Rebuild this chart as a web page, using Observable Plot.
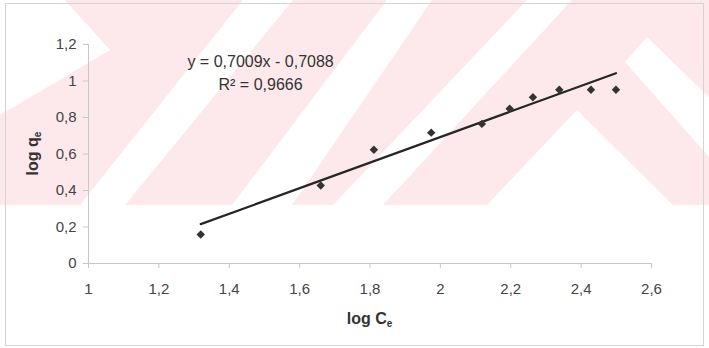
<!DOCTYPE html>
<html>
<head>
<meta charset="utf-8">
<script src="https://cdn.jsdelivr.net/npm/d3@7"></script>
<script src="https://cdn.jsdelivr.net/npm/@observablehq/plot@0.6"></script>
<style>
  body { margin: 0; background: #fff; }
  #wrap { position: relative; width: 709px; height: 348px; font-family: "Liberation Sans", Arial, sans-serif; }
  #wrap > svg { position: absolute; left: 0; top: 0; }
</style>
</head>
<body>
<div id="wrap"></div>
<script>
// Freundlich isotherm: log Ce vs log qe
const logCe = [1.319, 1.660, 1.811, 1.974, 2.118, 2.197, 2.263, 2.338, 2.428, 2.499];
const logQe = [0.159, 0.427, 0.623, 0.717, 0.765, 0.848, 0.911, 0.952, 0.952, 0.952];

// Linear fit as reported
const slope = 0.7009;
const intercept = -0.7088;
const rSquared = 0.9666;

const xTicks = [1, 1.2, 1.4, 1.6, 1.8, 2, 2.2, 2.4, 2.6];
const yTicks = [0, 0.2, 0.4, 0.6, 0.8, 1, 1.2];

const W = 709, H = 348;
const comma = d => String(d).replace(".", ",");

// Background layer: page frame and the light diagonal band pattern
const bg = d3.create("svg").attr("width", W).attr("height", H);
bg.append("rect").attr("x", 0).attr("y", 0).attr("width", W).attr("height", 205).attr("fill", "#fde9ec");
const bands = [
  [[0,0],[65,0],[110,50],[0,115]],
  [[243,0],[293,0],[125,205],[80,205]],
  [[387,0],[432,0],[292,205],[232,205]],
  [[527,0],[572,0],[383,205],[333,205]],
  [[577,110],[673,205],[487,205]],
  [[625,62],[647,37],[709,97],[709,157]]
];
bg.selectAll("polygon.band").data(bands).join("polygon")
  .attr("class", "band")
  .attr("points", d => d.map(p => p.join(",")).join(" "))
  .attr("fill", "#ffffff");
bg.append("rect").attr("x", 5.5).attr("y", 3.5).attr("width", 698).attr("height", 342)
  .attr("fill", "none").attr("stroke", "#d4d4d4");
document.getElementById("wrap").append(bg.node());

const points = logCe.map((x, i) => ({x, y: logQe[i]}));
const fit = d3.extent(logCe).map(x => ({x, y: slope * x + intercept}));

const chart = Plot.plot({
  width: W,
  height: H,
  marginLeft: 88,
  marginRight: 58,
  marginTop: 44,
  marginBottom: 85,
  style: {background: "transparent", fontFamily: "Liberation Sans, Arial, sans-serif", fontSize: "15px", color: "#444"},
  x: {domain: [1, 2.6]},
  y: {domain: [0, 1.2]},
  marks: [
    Plot.ruleY([0], {stroke: "#c4c8cc"}),
    Plot.ruleX([1], {stroke: "#c4c8cc"}),
    Plot.axisX({ticks: xTicks, tickFormat: comma, tickSize: 5, tickPadding: 15, stroke: "#c4c8cc", label: null}),
    Plot.axisY({ticks: yTicks, tickFormat: comma, tickSize: 5, tickPadding: 7, stroke: "#c4c8cc", label: null}),
    Plot.line(fit, {x: "x", y: "y", stroke: "#262626", strokeWidth: 2.2}),
    Plot.dot(points, {x: "x", y: "y", symbol: "diamond2", r: 3.8, fill: "#333", stroke: "none"}),
    Plot.text([`y = ${comma(slope)}x - ${comma(-intercept)}`], {x: 1.489, y: 1.107, text: d => d, fontSize: 16, fill: "#333"}),
    Plot.text([`R² = ${comma(rSquared)}`], {x: 1.489, y: 0.981, text: d => d, fontSize: 16, fill: "#333"})
  ]
});
document.getElementById("wrap").append(chart);

// Axis titles with subscripts
const svg = d3.select(chart);
const xs = chart.scale("x"), ys = chart.scale("y");
const xt = svg.append("text")
  .attr("x", (xs.apply(1) + xs.apply(2.6)) / 2).attr("y", 324)
  .attr("text-anchor", "middle").attr("font-size", 16).attr("font-weight", "bold").attr("fill", "#333");
xt.append("tspan").text("log C");
xt.append("tspan").attr("font-size", 10).attr("dy", 3).text("e");

const yt = svg.append("text")
  .attr("transform", `translate(38,${(ys.apply(0) + ys.apply(1.2)) / 2}) rotate(-90)`)
  .attr("text-anchor", "middle").attr("font-size", 16).attr("font-weight", "bold").attr("fill", "#333");
yt.append("tspan").text("log q");
yt.append("tspan").attr("font-size", 10).attr("dy", 3).text("e");
</script>
</body>
</html>
